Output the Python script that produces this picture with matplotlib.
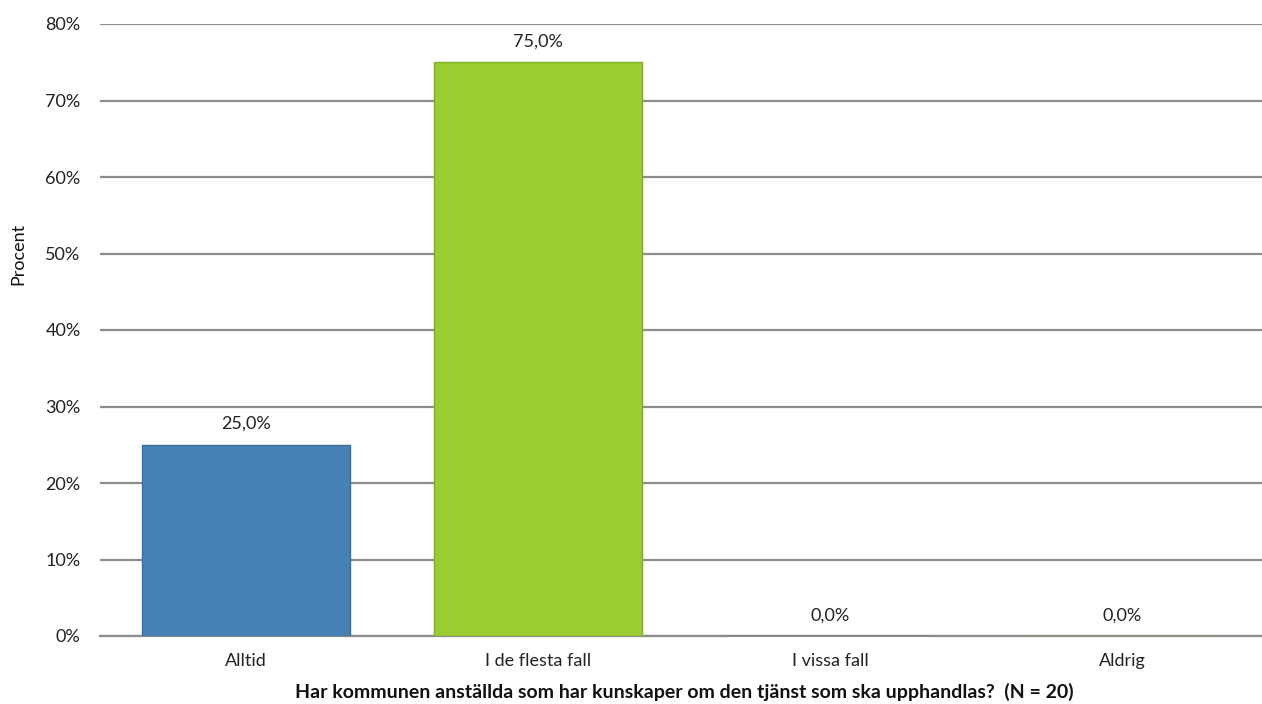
import matplotlib
matplotlib.use("Agg")
import matplotlib.pyplot as plt

categories = ["Alltid", "I de flesta fall", "I vissa fall", "Aldrig"]
values = [25.0, 75.0, 0.0, 0.0]
colors = ["#4682b4", "#9acd32", "#4682b4", "#9acd32"]
edges = ["#3c6e99", "#7fae26", "#3c6e99", "#7fae26"]
yticks = [0, 10, 20, 30, 40, 50, 60, 70, 80]
title = "Har kommunen anställda som har kunskaper om den tjänst som ska upphandlas?  (N = 20)"

plt.rcParams['font.family'] = ['Lato', 'DejaVu Sans']

fig = plt.figure(figsize=(12.62, 7.04), dpi=100)
# plot area in pixels: x 100..1262, y 24..636
ax = fig.add_axes([100 / 1262, (704 - 636) / 704, 1162 / 1262, 612 / 704])

x = list(range(len(categories)))
ax.bar(x, values, width=0.71, color=colors, edgecolor=edges, linewidth=1, zorder=3)

for xi, v in zip(x, values):
    ax.annotate(f"{v:.1f}".replace(".", ",") + "%", (xi, v), xytext=(0, 15),
                textcoords="offset points", ha="center", va="center",
                fontsize=13, color="#222222")

ax.set_xlim(-0.5, -0.5 + 1162 / 292)
ax.set_ylim(0, 80)
ax.set_yticks(yticks)
ax.set_yticklabels([f"{t}%" for t in yticks], fontsize=13, color="#222222")
ax.set_xticks(x)
ax.set_xticklabels(categories, fontsize=13, color="#222222")
ax.tick_params(axis='x', length=0, pad=12)
ax.tick_params(axis='y', length=0, pad=14)

ax.grid(axis='y', color="#8c8c8c", linewidth=1.6, zorder=0)
for s in ["top", "right", "left"]:
    ax.spines[s].set_visible(False)
ax.spines["bottom"].set_color("#8c8c8c")
ax.spines["bottom"].set_linewidth(1.6)

fig.text(684 / 1262, 1 - 692 / 704, title, ha="center", va="center",
         fontsize=14, fontweight="bold", color="#111111")
fig.text(18 / 1262, 1 - 254 / 704, "Procent", ha="center", va="center",
         rotation=90, fontsize=13, color="#111111")

fig.savefig("out.png", dpi=100)
